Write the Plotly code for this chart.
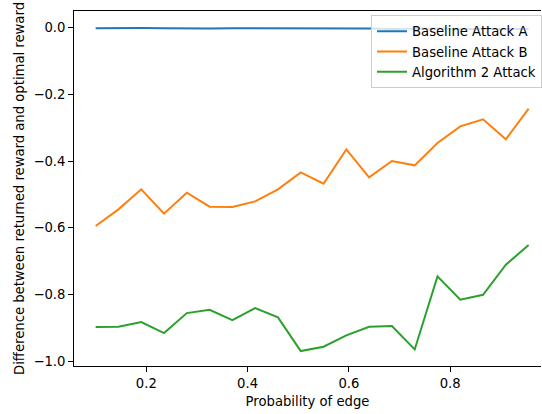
import plotly.graph_objects as go

x_prob = [0.1, 0.145, 0.19, 0.235, 0.28, 0.325, 0.37, 0.415, 0.46, 0.505,
          0.55, 0.595, 0.64, 0.685, 0.73, 0.775, 0.82, 0.865, 0.91, 0.955]

baseline_a = [-0.002, -0.001, -0.001, -0.002, -0.003, -0.003, -0.002, -0.002, -0.001, -0.002,
              -0.003, -0.003, -0.003, -0.004, -0.003, -0.003, -0.004, -0.004, -0.003, -0.004]

baseline_b = [-0.595, -0.545, -0.485, -0.558, -0.495, -0.537, -0.538, -0.521, -0.485, -0.434,
              -0.468, -0.365, -0.449, -0.400, -0.413, -0.346, -0.296, -0.275, -0.335, -0.243]

algorithm2 = [-0.898, -0.897, -0.883, -0.916, -0.856, -0.846, -0.877, -0.841, -0.869, -0.970,
              -0.957, -0.923, -0.897, -0.895, -0.965, -0.746, -0.816, -0.801, -0.711, -0.652]

series_names = ["Baseline Attack A", "Baseline Attack B", "Algorithm 2 Attack"]
series_colors = ["#1f77b4", "#ff7f0e", "#2ca02c"]

y_ticks = [-1.0, -0.8, -0.6, -0.4, -0.2, 0.0]
x_ticks = [0.2, 0.4, 0.6, 0.8]

fig = go.Figure()
for name, vals, col in zip(series_names, [baseline_a, baseline_b, algorithm2], series_colors):
    fig.add_trace(go.Scatter(x=x_prob, y=vals, mode="lines", name=name,
                             line=dict(color=col, width=2.0)))

font_family = "DejaVu Sans"
fs = 13.2
fig.update_layout(
    width=542, height=414,
    margin=dict(l=74, r=0, t=11, b=48),
    paper_bgcolor="white", plot_bgcolor="white",
    font=dict(family=font_family, size=fs, color="black"),
    showlegend=True,
    legend=dict(x=0.636, y=0.988, xanchor="left", yanchor="top",
                bgcolor="rgba(255,255,255,0.8)", bordercolor="#cccccc", borderwidth=1,
                font=dict(family=font_family, size=fs), itemwidth=30,
                tracegroupgap=0),
    xaxis=dict(range=[0.05725, 0.9794], tickvals=x_ticks, ticktext=[f"{v:.1f}" for v in x_ticks],
               automargin=False,
               showgrid=False, zeroline=False, showline=True, linecolor="black", linewidth=1.1,
               mirror=True, ticks="outside", ticklen=4.9, tickwidth=1.1, tickcolor="black",
               title=dict(text="Probability of edge", standoff=6,
                          font=dict(family=font_family, size=fs))),
    yaxis=dict(range=[-1.0147, 0.0498], tickvals=y_ticks,
               ticktext=[("\u2212" if v < 0 else "") + f"{abs(v):.1f}" for v in y_ticks],
               automargin=False,
               showgrid=False, zeroline=False, showline=True, linecolor="black", linewidth=1.1,
               mirror=False, ticks="outside", ticklen=4.9, tickwidth=1.1, tickcolor="black",
               title=dict(text="Difference between returned reward and optimal reward", standoff=5,
                          font=dict(family=font_family, size=fs))),
)

fig.write_html("out.html", config={"displayModeBar": False},
               post_script="document.body.style.margin='0';document.body.style.overflow='hidden';")
